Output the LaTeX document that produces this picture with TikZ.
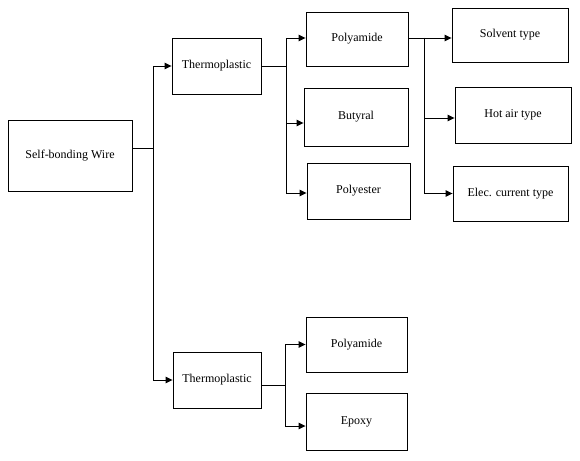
\documentclass[tikz,border=0pt]{standalone}
\usepackage{fontspec}
\setmainfont{Liberation Serif}
\usetikzlibrary{arrows.meta}
\begin{document}
\begin{tikzpicture}[x=1pt,y=-1pt,
  box/.style={draw,line width=0.9pt,inner sep=0pt,font=\fontsize{12}{14}\selectfont},
  conn/.style={line width=0.9pt},
  arr/.style={conn,-{Triangle[length=7pt,width=6.5pt]}}]
\useasboundingbox (0,0) rectangle (580,460);
\node[box,minimum width=124pt,minimum height=71pt] (wire) at (70,155.5) {Self-bonding Wire};
\node[box,minimum width=89pt,minimum height=56pt] (thermoA) at (216.5,66) {Thermoplastic};
\node[box,minimum width=88pt,minimum height=56pt] (thermoB) at (217,380) {Thermoplastic};
\node[box,minimum width=102pt,minimum height=54pt] (polyA) at (357,39) {Polyamide};
\node[box,minimum width=104pt,minimum height=58pt] (butyral) at (356,117) {Butyral};
\node[box,minimum width=103pt,minimum height=56pt] (polyester) at (358.5,191) {Polyester};
\node[box,minimum width=116pt,minimum height=54pt] (solvent) at (510,35) {Solvent type};
\node[box,minimum width=116pt,minimum height=56pt] (hotair) at (513,115) {Hot air type};
\node[box,minimum width=115pt,minimum height=55pt] (elec) at (510.5,193.5) {Elec. current type};
\node[box,minimum width=101pt,minimum height=55pt] (polyB) at (356.5,344.5) {Polyamide};
\node[box,minimum width=101pt,minimum height=57pt] (epoxy) at (356.5,421.5) {Epoxy};
\coordinate (t1) at (153,148);
\coordinate (b1) at (286,66);
\coordinate (b2) at (424,38);
\coordinate (b3) at (285,385);
% trunk
\draw[conn] ([yshift=7.5pt]wire.east) -- (t1);
\draw[arr] (t1) |- (thermoA.west);
\draw[arr] (t1) |- (thermoB.west);
% upper thermoplastic
\draw[conn] (thermoA.east) -- (b1);
\draw[arr] (b1) |- ([yshift=1pt]polyA.west);
\draw[arr] (b1) |- ([yshift=-6pt]butyral.west);
\draw[arr] (b1) |- ([yshift=-2pt]polyester.west);
% polyamide types
\draw[conn] ([yshift=1pt]polyA.east) -- (b2);
\draw[arr] (b2) |- ([yshift=-3pt]solvent.west);
\draw[arr] (b2) |- ([yshift=-3pt]hotair.west);
\draw[arr] (b2) |- (elec.west);
% lower thermoplastic
\draw[conn] ([yshift=-5pt]thermoB.east) -- (b3);
\draw[arr] (b3) |- (polyB.west);
\draw[arr] (b3) |- ([yshift=-4.5pt]epoxy.west);
\end{tikzpicture}
\end{document}
